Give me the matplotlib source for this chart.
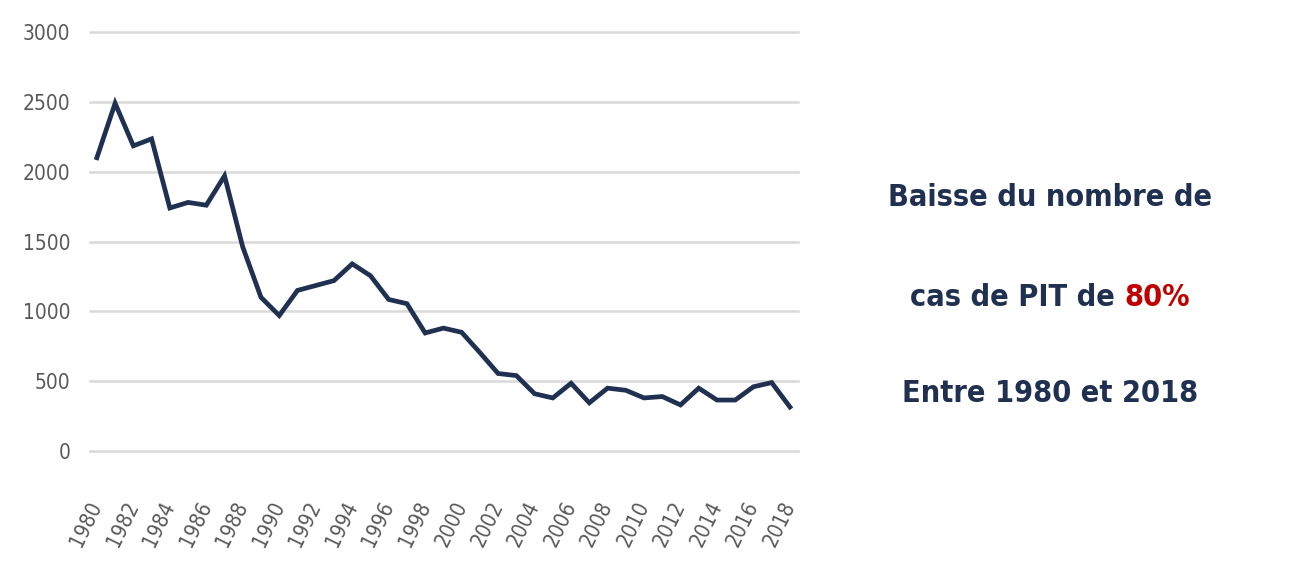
import matplotlib.pyplot as plt
from matplotlib import font_manager
import numpy as np

# yearly PIT case counts
years = list(range(1980, 2019))
cases = [2100, 2490, 2185, 2235, 1740, 1780, 1760, 1970, 1460, 1100,
         970, 1150, 1185, 1220, 1340, 1255, 1085, 1055, 845, 880,
         850, 705, 555, 540, 410, 380, 485, 345, 450, 435,
         380, 390, 330, 450, 365, 365, 460, 490, 315]
yticks = [0, 500, 1000, 1500, 2000, 2500, 3000]
xticks = list(range(1980, 2019, 2))

NAVY = '#1f3050'
GRID = '#d9d9d9'
TICK = '#595959'

# pick a narrow face if there is one (the original uses Calibri)
names = {(f.name, str(f.stretch)) for f in font_manager.fontManager.ttflist}
if any(n == 'Liberation Sans Narrow' for n, _ in names):
    FONT, STRETCH = ['Liberation Sans Narrow', 'DejaVu Sans'], 'normal'
elif ('DejaVu Sans', 'condensed') in names or ('DejaVu Sans', '700') in names:
    FONT, STRETCH = ['DejaVu Sans'], 'condensed'
else:
    FONT, STRETCH = ['Liberation Sans', 'DejaVu Sans'], 'normal'

fig = plt.figure(figsize=(12.96, 5.78), dpi=100)
ax = fig.add_axes([0.0694, 0.2197, 0.5463, 0.7249])

ax.plot(years, cases, color=NAVY, lw=3.4, solid_joinstyle='miter', zorder=3)

ax.set_ylim(0, 3000)
ax.set_xlim(1979.62, 2018.44)
ax.set_yticks(yticks)
ax.set_xticks(xticks)
ax.grid(axis='y', color=GRID, lw=1.8)
for gl in ax.get_ygridlines():
    gl.set_clip_on(False)
ax.set_axisbelow(True)
for s in ax.spines.values():
    s.set_visible(False)
ax.tick_params(length=0)
ax.tick_params(axis='y', pad=14)
ax.tick_params(axis='x', pad=37)

for lab in ax.get_yticklabels():
    lab.set_family(FONT)
    lab.set_stretch(STRETCH)
    lab.set_fontsize(15)
    lab.set_color(TICK)
for lab in ax.get_xticklabels():
    lab.set_family(FONT)
    lab.set_stretch(STRETCH)
    lab.set_fontsize(15)
    lab.set_color(TICK)
    lab.set_rotation(64)
    lab.set_ha('right')
    lab.set_va('center')
    lab.set_rotation_mode('anchor')

# annotation on the right
CX = 1050 / 1296
txt_kw = dict(fontsize=22, fontweight='bold', family=FONT, fontstretch=STRETCH,
              va='center')
fig.text(CX, 1 - 197 / 578, 'Baisse du nombre de', color=NAVY, ha='center', **txt_kw)
fig.text(CX, 1 - 393 / 578, 'Entre 1980 et 2018', color=NAVY, ha='center', **txt_kw)

# second line: split so that "80%" can be red
r = fig.canvas.get_renderer()
part_a = fig.text(0, 1 - 297 / 578, 'cas de PIT de ', color=NAVY, ha='left', **txt_kw)
part_b = fig.text(0, 1 - 297 / 578, '80%', color='#c00000', ha='left', **txt_kw)
wa = part_a.get_window_extent(r).width
wb = part_b.get_window_extent(r).width
x0 = CX * fig.bbox.width - (wa + wb) / 2
part_a.set_x(x0 / fig.bbox.width)
part_b.set_x((x0 + wa) / fig.bbox.width)

fig.savefig('out.png', dpi=100, facecolor='white')
